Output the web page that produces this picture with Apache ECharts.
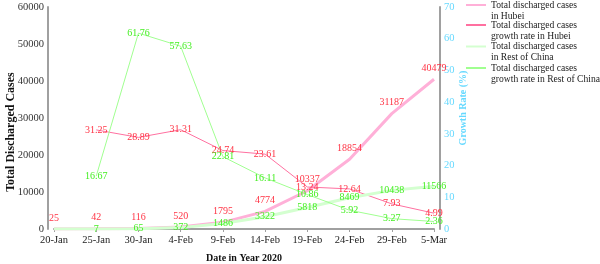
<!DOCTYPE html>
<html>
<head>
<meta charset="utf-8">
<script src="https://cdn.jsdelivr.net/npm/echarts@6/dist/echarts.min.js"></script>
<style>html,body{margin:0;padding:0;background:#fff}#c{width:600px;height:264px}</style>
</head>
<body>
<div id="c"></div>
<script>
const categories = ['20-Jan','25-Jan','30-Jan','4-Feb','9-Feb','14-Feb','19-Feb','24-Feb','29-Feb','5-Mar'];
const hubeiTotal = [25, 42, 116, 520, 1795, 4774, 10337, 18854, 31187, 40479];
const hubeiRate = [null, 31.25, 28.89, 31.31, 24.74, 23.61, 13.24, 12.64, 7.93, 4.99];
const restTotal = [0, 7, 65, 372, 1486, 3322, 5818, 8469, 10438, 11566];
const restRate = [null, 16.67, 61.76, 57.63, 22.81, 16.11, 10.86, 5.92, 3.27, 2.36];
const leftTicks = [0, 60000, 10000];
const rightTicks = [0, 70, 10];
const seriesNames = [
  'Total discharged cases\nin Hubei',
  'Total discharged cases\ngrowth rate in Hubei',
  'Total discharged cases\nin Rest of China',
  'Total discharged cases\ngrowth rate in Rest of China'
];

const FONT = 'Liberation Serif';
const chart = echarts.init(document.getElementById('c'), null, {renderer: 'canvas'});

function legend(name, top) {
  return {
    data: [name], left: 465, top: top, padding: 0, itemWidth: 20, itemHeight: 8, itemGap: 0,
    formatter: n => '\n' + n,
    textStyle: {fontFamily: FONT, fontSize: 9.6, color: '#222', lineHeight: 11}
  };
}

const restTotalData = restTotal.map((v, i) => i === 0 ? {value: v, label: {show: false}} : v);
const hiddenSym = {symbol: 'circle', symbolSize: 2, showSymbol: true, itemStyle: {color: 'rgba(0,0,0,0)', borderWidth: 0}};

chart.setOption({
  animation: false,
  legend: [legend(seriesNames[0], -11.5), legend(seriesNames[1], 8.5), legend(seriesNames[2], 30), legend(seriesNames[3], 51.5)],
  grid: {left: 54, right: 166, top: 7, bottom: 35, outerBoundsMode: 'none', containLabel: false},
  xAxis: {
    type: 'category', data: categories, boundaryGap: false,
    name: 'Date in Year 2020', nameLocation: 'middle', nameGap: 24, nameMoveOverlap: false,
    nameTextStyle: {fontFamily: FONT, fontSize: 10, fontWeight: 'bold', color: '#111'},
    axisLine: {lineStyle: {color: '#a0a0a0', width: 2}},
    axisTick: {length: 3, lineStyle: {color: '#a0a0a0'}},
    axisLabel: {fontFamily: FONT, fontSize: 10.5, color: '#222', margin: 6}
  },
  yAxis: [{
    type: 'value', min: leftTicks[0], max: leftTicks[1], interval: leftTicks[2], offset: 6,
    name: 'Total Discharged Cases', nameLocation: 'middle', nameGap: 31, nameMoveOverlap: false,
    nameTextStyle: {fontFamily: FONT, fontSize: 12, fontWeight: 'bold', color: '#111', padding: [0, 0, 0, -28]},
    axisLine: {show: true, lineStyle: {color: '#a0a0a0', width: 2}},
    axisTick: {show: false}, splitLine: {show: false},
    axisLabel: {fontFamily: FONT, fontSize: 10.5, color: '#333', margin: 4, formatter: v => String(v)}
  }, {
    type: 'value', min: rightTicks[0], max: rightTicks[1], interval: rightTicks[2], offset: 6, position: 'right',
    name: 'Growth Rate (%)', nameLocation: 'middle', nameGap: 18, nameRotate: 90, nameMoveOverlap: false,
    nameTextStyle: {fontFamily: FONT, fontSize: 10, fontWeight: 'bold', color: '#66d9ff', padding: [0, 0, 0, 20]},
    axisLine: {show: true, lineStyle: {color: '#a0a0a0', width: 2}},
    axisTick: {show: false}, splitLine: {show: false},
    axisLabel: {fontFamily: FONT, fontSize: 10.5, color: '#66d9ff', margin: 4}
  }],
  series: [Object.assign({
    name: seriesNames[0], type: 'line', yAxisIndex: 0, data: hubeiTotal,
    lineStyle: {color: '#ffb0d8', width: 3}, color: '#ffb0d8',
    label: {show: true, position: 'top', distance: 5, fontFamily: FONT, fontSize: 10, color: '#ff3344'}
  }, hiddenSym), Object.assign({
    name: seriesNames[1], type: 'line', yAxisIndex: 1, data: hubeiRate,
    lineStyle: {color: '#ff70a0', width: 1}, color: '#ff70a0',
    label: {show: true, position: 'inside', fontFamily: FONT, fontSize: 10, color: '#ff3344'}
  }, hiddenSym), Object.assign({
    name: seriesNames[2], type: 'line', yAxisIndex: 0, data: restTotalData,
    lineStyle: {color: '#d4ffd0', width: 3}, color: '#d4ffd0',
    label: {show: true, position: 'inside', fontFamily: FONT, fontSize: 10, color: '#44ee22'}
  }, hiddenSym), Object.assign({
    name: seriesNames[3], type: 'line', yAxisIndex: 1, data: restRate,
    lineStyle: {color: '#a0ff90', width: 1}, color: '#a0ff90',
    label: {show: true, position: 'inside', fontFamily: FONT, fontSize: 10, color: '#44ee22'}
  }, hiddenSym)]
});
</script>
</body>
</html>
